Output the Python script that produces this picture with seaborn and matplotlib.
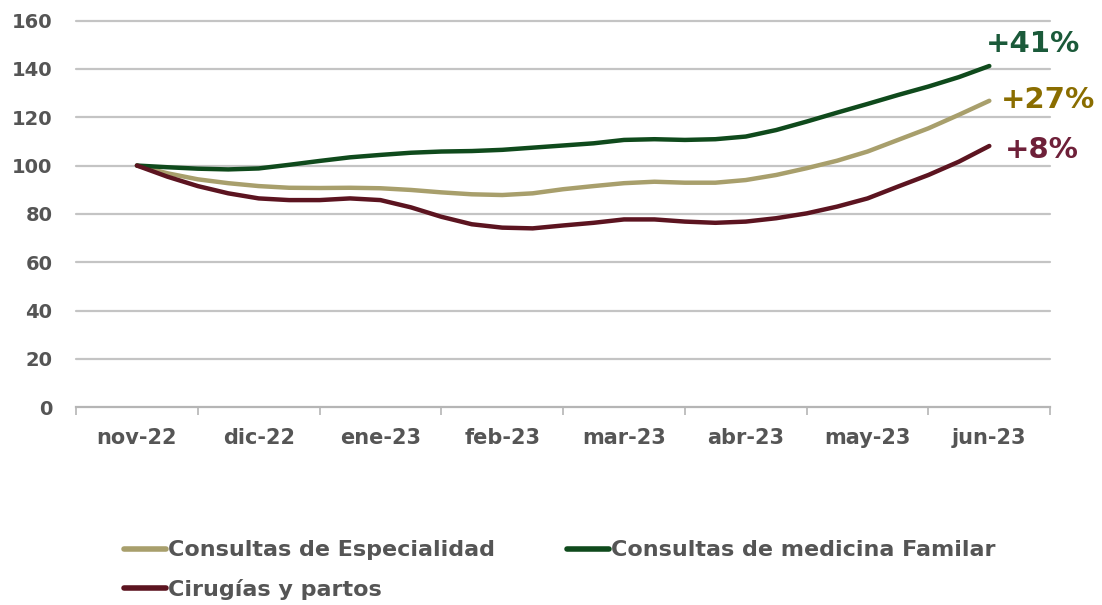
import numpy as np
import pandas as pd
import matplotlib
matplotlib.use("Agg")
import matplotlib.pyplot as plt
import seaborn as sns

months = ["nov-22", "dic-22", "ene-23", "feb-23", "mar-23", "abr-23", "may-23", "jun-23"]
# quarter-month sample index (0..28) -> position in months
week_idx = list(range(29))

especialidad = [100, 96.8, 94.3, 92.7, 91.5, 90.8, 90.7, 90.8, 90.6, 89.9, 88.9, 88.1, 87.8, 88.5,
                90.2, 91.5, 92.7, 93.3, 92.9, 92.9, 94.0, 96.1, 98.9, 102.0, 105.8, 110.6, 115.4, 121.0, 126.8]
familiar = [100, 99.3, 98.7, 98.4, 98.8, 100.3, 101.9, 103.4, 104.4, 105.3, 105.8, 106.0, 106.5, 107.4,
            108.3, 109.2, 110.6, 110.9, 110.6, 110.9, 112.0, 114.7, 118.2, 121.9, 125.5, 129.2, 132.7, 136.6, 141.2]
cirugias = [100, 95.4, 91.5, 88.5, 86.4, 85.7, 85.7, 86.4, 85.7, 82.7, 78.8, 75.7, 74.3, 74.0,
            75.2, 76.3, 77.7, 77.7, 76.8, 76.3, 76.8, 78.2, 80.2, 83.0, 86.4, 91.3, 96.1, 101.6, 108.1]

series_names = ["Consultas de Especialidad", "Consultas de medicina Familar", "Cirugías y partos"]
end_labels = ["+27%", "+41%", "+8%"]
yticks = [0, 20, 40, 60, 80, 100, 120, 140, 160]

colors = {"Consultas de Especialidad": "#a89f6c",
          "Consultas de medicina Familar": "#0f4a1c",
          "Cirugías y partos": "#5c1420"}
label_colors = {"Consultas de Especialidad": "#8a6d00",
                "Consultas de medicina Familar": "#1b5a3a",
                "Cirugías y partos": "#6e2039"}

rows = []
for name, vals in zip(series_names, [especialidad, familiar, cirugias]):
    for i, v in zip(week_idx, vals):
        rows.append({"pos": i / 4.0, "valor": v, "serie": name})
df = pd.DataFrame(rows)

sns.set_theme(style="white")
plt.rcParams['font.family'] = ['DejaVu Sans']

fig = plt.figure(figsize=(11.02, 6.05), dpi=100)
fig.patch.set_facecolor("white")
ax = fig.add_axes([0.069, 0.327, 0.884, 0.639])

for y in yticks[1:]:
    ax.axhline(y, color="#c4c4c4", lw=1.6, zorder=0, clip_on=False)

sns.lineplot(data=df, x="pos", y="valor", hue="serie", hue_order=series_names,
             palette=colors, lw=3.2, ax=ax, legend=True, zorder=3)

ax.set_xlim(-0.5, 7.5)
ax.set_ylim(0, 160)
ax.set_yticks(yticks)
ax.set_yticklabels([str(t) for t in yticks], fontsize=14, fontweight="bold", color="#555555")
ax.set_xticks(range(len(months)))
ax.set_xticklabels(months, fontsize=15, fontweight="bold", color="#555555")
ax.set_xticks(np.arange(-0.5, 8.0, 1.0), minor=True)
ax.tick_params(axis="x", which="major", length=0, pad=15)
ax.tick_params(axis="x", which="minor", bottom=True, length=6, width=1.2,
               color="#b5b5b5", direction="out")
ax.tick_params(axis="y", length=0, pad=17)
ax.set_xlabel("")
ax.set_ylabel("")
for s in ["top", "right", "left"]:
    ax.spines[s].set_visible(False)
ax.spines["bottom"].set_color("#b5b5b5")
ax.spines["bottom"].set_linewidth(1.6)

# end labels
offsets = {"Consultas de Especialidad": (7.48, 127.0),
           "Consultas de medicina Familar": (7.36, 150.5),
           "Cirugías y partos": (7.43, 106.5)}
for name, lab in zip(series_names, end_labels):
    x, y = offsets[name]
    ax.text(x, y, lab, color=label_colors[name], fontsize=21, fontweight="bold",
            ha="center", va="center", clip_on=False)

handles, labels = ax.get_legend_handles_labels()
ax.legend_.remove()
for h in handles:
    h.set_linewidth(4)
# matplotlib fills legend columns first: reorder so rows read Esp, Fam / Cir
order = [0, 2, 1]
leg = fig.legend([handles[i] for i in order], [labels[i] for i in order],
                 loc="upper left", bbox_to_anchor=(0.094, 0.14),
                 ncol=2, frameon=False, handlelength=1.9, handletextpad=0.12,
                 columnspacing=3.2, labelspacing=0.85,
                 prop={"weight": "bold", "size": 16})
for t in leg.get_texts():
    t.set_color("#555555")

fig.savefig("out.png", dpi=100, facecolor="white")
